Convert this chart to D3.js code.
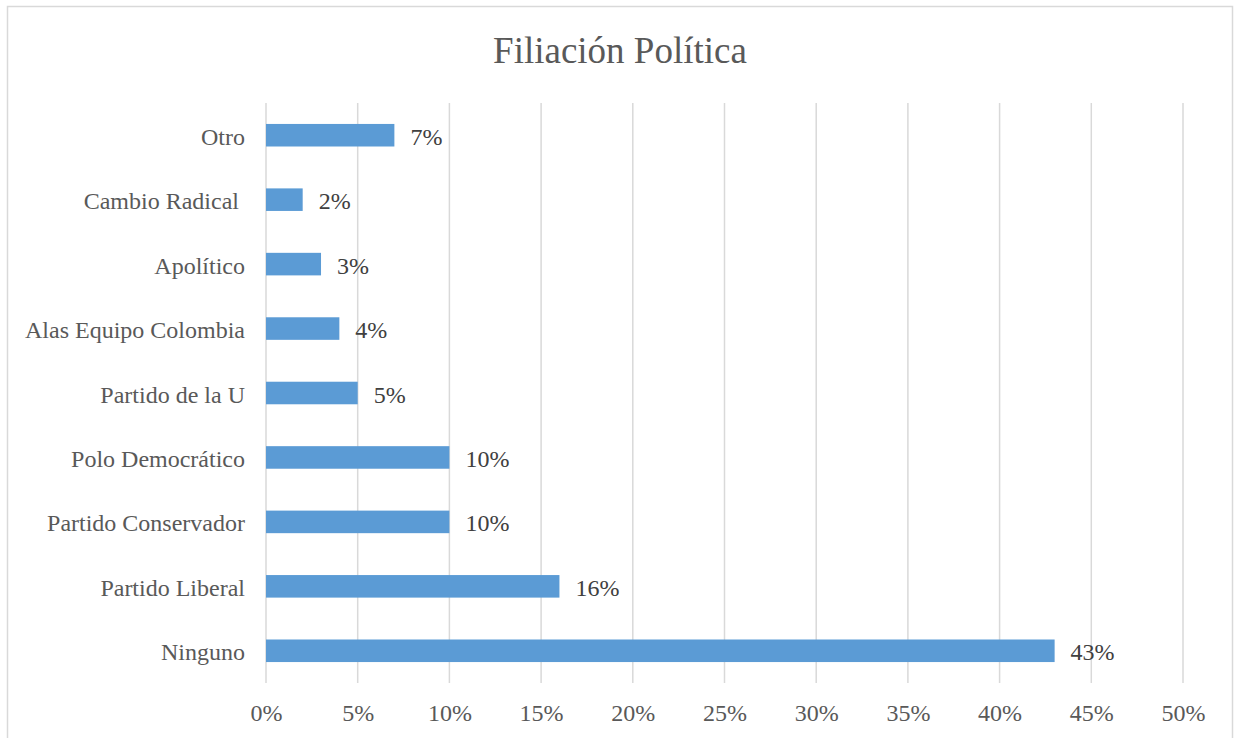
<!DOCTYPE html>
<html>
<head>
<meta charset="utf-8">
<script src="https://cdn.jsdelivr.net/npm/d3@7"></script>
<style>
  html, body { margin: 0; padding: 0; background: #fff; }
  svg { display: block; }
  text { font-family: "Liberation Serif", "Times New Roman", serif; }
</style>
</head>
<body>
<svg id="chart" width="1235" height="738"></svg>
<script>
const title = "Filiación Política";
const categories = ["Otro", "Cambio Radical ", "Apolítico", "Alas Equipo Colombia", "Partido de la U",
                    "Polo Democrático", "Partido Conservador", "Partido Liberal", "Ninguno"];
const values = [7, 2, 3, 4, 5, 10, 10, 16, 43];
const tickValues = [0, 5, 10, 15, 20, 25, 30, 35, 40, 45, 50];

const svg = d3.select("#chart");

// chart border
svg.append("rect")
  .attr("x", 7.5).attr("y", 6.5)
  .attr("width", 1225).attr("height", 760)
  .attr("fill", "none").attr("stroke", "#d9d9d9").attr("stroke-width", 1.5);

svg.append("text")
  .attr("x", 620).attr("y", 63)
  .attr("text-anchor", "middle")
  .attr("font-size", 37)
  .attr("fill", "#595959")
  .text(title);

const x = d3.scaleLinear().domain([0, 50]).range([266, 1183]);
const y = d3.scaleBand().domain(categories).range([103, 683])
  .paddingInner(0.65).paddingOuter(0.325);

// gridlines
svg.append("g").selectAll("line").data(tickValues).join("line")
  .attr("x1", d => x(d)).attr("x2", d => x(d))
  .attr("y1", 103).attr("y2", 683)
  .attr("stroke", "#d9d9d9").attr("stroke-width", 1.5);

// x axis labels
const xAxis = d3.axisBottom(x).tickValues(tickValues).tickFormat(d => d + "%").tickSize(0).tickPadding(0);
const gx = svg.append("g").attr("transform", "translate(0,705)").call(xAxis);
gx.select(".domain").remove();
gx.selectAll("text")
  .attr("font-family", "'Liberation Serif', 'Times New Roman', serif")
  .attr("font-size", 24).attr("fill", "#595959").attr("dy", "0.68em");

// y axis labels
const yAxis = d3.axisLeft(y).tickSize(0).tickPadding(21);
const gy = svg.append("g").attr("transform", "translate(266,0)").call(yAxis);
gy.select(".domain").remove();
gy.selectAll("text")
  .attr("font-family", "'Liberation Serif', 'Times New Roman', serif")
  .attr("font-size", 24).attr("fill", "#595959")
  .attr("dy", "0.4em")
  .style("white-space", "pre");

// bars
svg.append("g").selectAll("rect").data(categories).join("rect")
  .attr("x", x(0))
  .attr("y", d => y(d))
  .attr("width", (d, i) => x(values[i]) - x(0))
  .attr("height", y.bandwidth())
  .attr("fill", "#5b9bd5");

// data labels
svg.append("g").selectAll("text").data(categories).join("text")
  .attr("x", (d, i) => x(values[i]) + 16)
  .attr("y", d => y(d) + y.bandwidth() / 2)
  .attr("dy", "0.4em")
  .attr("font-size", 24)
  .attr("fill", "#404040")
  .text((d, i) => values[i] + "%");
</script>
</body>
</html>
